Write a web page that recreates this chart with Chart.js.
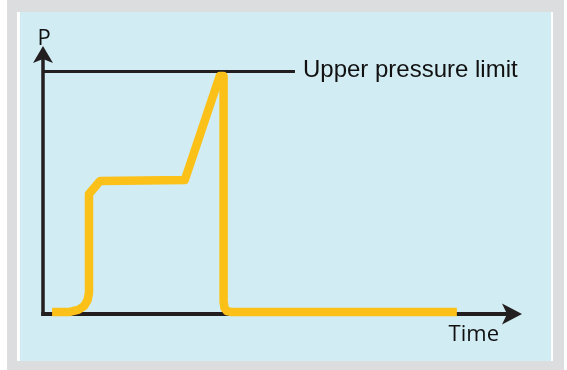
<!DOCTYPE html>
<html>
<head>
<meta charset="utf-8">
<script src="https://cdn.jsdelivr.net/npm/chart.js@4/dist/chart.umd.min.js"></script>
<style>
  html, body { margin: 0; padding: 0; background: #ffffff; }
  #frame { position: absolute; left: 7px; top: 0; width: 557px; height: 370px; background: #dcdddf; }
  #edge  { position: absolute; left: 17px; top: 12px; width: 536px; height: 349px; background: #ffffff; }
  #panel { position: absolute; left: 20px; top: 12px; width: 531px; height: 349px; background: #d1ecf2; }
  canvas { position: absolute; left: 0; top: 0; }
</style>
</head>
<body>
<div id="frame"></div>
<div id="edge"></div>
<div id="panel"></div>
<canvas id="chart" width="567" height="370"></canvas>
<script>
// Pressure trace over time (arbitrary units, axes run 0..100)
const timeValues = [1.9, 5.6, 7.3, 8.6, 9.3, 9.6, 9.6, 11.9, 29.6, 36.9, 37.7, 37.7, 37.9, 38.4, 39.2, 86.4];
const pressureValues = [0.75, 0.75, 1.5, 3.0, 5.2, 7.8, 44.8, 49.6, 50.0, 88.8, 88.8, 4.5, 2.2, 1.1, 0.75, 0.75];

// Upper pressure limit reference line
const limitTimes = [0, 52.6];
const limitPressure = [90.5, 90.5];

// Axis extents and labels
const axisMax = { time: 100, pressure: 100 };
const yAxisLabel = 'P';
const xAxisLabel = 'Time';
const limitLabel = 'Upper pressure limit';

const INK = '#231f20';
const TRACE = '#fcc118';

const toPoints = (xs, ys) => xs.map((x, i) => ({ x, y: ys[i] }));

// Draws the arrowed axes and the text labels using the chart's scales
const arrowAxes = {
  id: 'arrowAxes',
  beforeDatasetsDraw(chart) {
    const { ctx, scales: { x, y } } = chart;
    const x0 = x.getPixelForValue(0);
    const xe = x.getPixelForValue(axisMax.time);
    const y0 = y.getPixelForValue(0);
    const ye = y.getPixelForValue(axisMax.pressure);
    ctx.save();
    ctx.strokeStyle = INK;
    ctx.fillStyle = INK;
    ctx.lineCap = 'butt';
    // vertical axis
    ctx.lineWidth = 3.5;
    ctx.beginPath();
    ctx.moveTo(x0, y0 + 2);
    ctx.lineTo(x0, ye + 12);
    ctx.stroke();
    // horizontal axis
    ctx.lineWidth = 4;
    ctx.beginPath();
    ctx.moveTo(x0 - 1.75, y0);
    ctx.lineTo(xe - 12, y0);
    ctx.stroke();
    // arrow heads
    ctx.beginPath();
    ctx.moveTo(x0, ye);
    ctx.lineTo(x0 + 10, ye + 17);
    ctx.lineTo(x0, ye + 13);
    ctx.lineTo(x0 - 10, ye + 17);
    ctx.closePath();
    ctx.fill();
    ctx.beginPath();
    ctx.moveTo(xe, y0);
    ctx.lineTo(xe - 20, y0 - 10.5);
    ctx.lineTo(xe - 15, y0);
    ctx.lineTo(xe - 20, y0 + 10.5);
    ctx.closePath();
    ctx.fill();
    ctx.restore();
  },
  afterDatasetsDraw(chart) {
    const { ctx, scales: { x, y } } = chart;
    const x0 = x.getPixelForValue(0);
    const xe = x.getPixelForValue(axisMax.time);
    const y0 = y.getPixelForValue(0);
    const ye = y.getPixelForValue(axisMax.pressure);
    const limX = x.getPixelForValue(limitTimes[limitTimes.length - 1]);
    const limY = y.getPixelForValue(limitPressure[0]);
    ctx.save();
    ctx.fillStyle = '#111111';
    ctx.textBaseline = 'alphabetic';
    ctx.font = '22px "Open Sans"';
    ctx.textAlign = 'center';
    ctx.fillText(yAxisLabel, x0 + 1, ye - 1);
    ctx.textAlign = 'right';
    ctx.fillText(xAxisLabel, xe - 23, y0 + 27);
    ctx.font = '24px "Liberation Sans"';
    ctx.textAlign = 'left';
    ctx.fillText(limitLabel, limX + 8, limY + 6);
    ctx.restore();
  }
};

new Chart(document.getElementById('chart'), {
  type: 'line',
  data: {
    datasets: [
      {
        label: 'Pressure',
        data: toPoints(timeValues, pressureValues),
        borderColor: TRACE,
        borderWidth: 8.5,
        borderJoinStyle: 'round',
        borderCapStyle: 'butt',
        pointRadius: 0,
        tension: 0,
        fill: false,
        clip: false
      },
      {
        label: limitLabel,
        data: toPoints(limitTimes, limitPressure),
        borderColor: INK,
        borderWidth: 3,
        borderCapStyle: 'butt',
        pointRadius: 0,
        tension: 0,
        fill: false,
        clip: false
      }
    ]
  },
  options: {
    responsive: false,
    animation: false,
    layout: { padding: { left: 43, right: 45, top: 46, bottom: 56 } },
    plugins: { legend: { display: false }, tooltip: { enabled: false } },
    scales: {
      x: { type: 'linear', min: 0, max: axisMax.time, display: false },
      y: { type: 'linear', min: 0, max: axisMax.pressure, display: false }
    }
  },
  plugins: [arrowAxes]
});
</script>
</body>
</html>
